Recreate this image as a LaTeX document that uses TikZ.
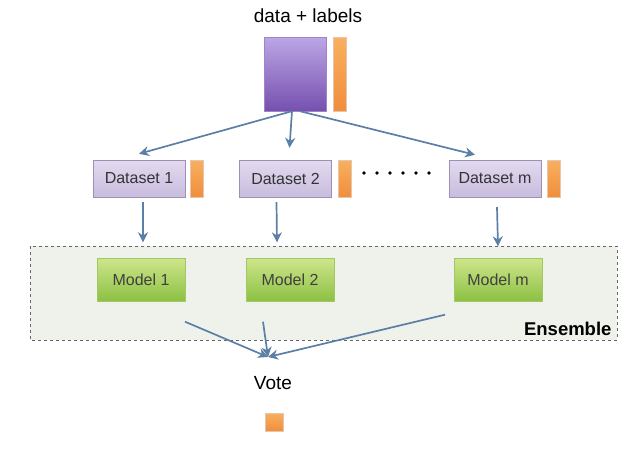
\documentclass[tikz,border=0pt]{standalone}
\usepackage{fontspec}
\setmainfont{Liberation Sans}
\usetikzlibrary{arrows.meta}

\definecolor{arrowblue}{HTML}{5B7FA6}
\definecolor{purpletop}{HTML}{BCA6E6}
\definecolor{purplebot}{HTML}{7650AE}
\definecolor{orangetop}{HTML}{F8B060}
\definecolor{orangebot}{HTML}{F08E3C}
\definecolor{settop}{HTML}{E2DAF0}
\definecolor{setbot}{HTML}{C9BCDD}
\definecolor{setline}{HTML}{9C90B4}
\definecolor{modtop}{HTML}{CDE58A}
\definecolor{modbot}{HTML}{8CC043}
\definecolor{modline}{HTML}{A3C667}
\definecolor{ensfill}{HTML}{EFF2EA}

\tikzset{
    setbox/.style={draw=setline, top color=settop, bottom color=setbot,
        minimum width=92pt, minimum height=37pt, inner sep=0pt,
        font=\fontsize{16}{18}\selectfont, text=black!80},
    labelbar/.style={draw=orangebot!80!black!40, top color=orangetop, bottom color=orangebot,
        minimum width=13pt, minimum height=37pt, inner sep=0pt},
    modbox/.style={draw=modline, top color=modtop, bottom color=modbot,
        minimum width=88pt, minimum height=43pt, inner sep=0pt,
        font=\fontsize{16}{18}\selectfont, text=black!75},
    flow/.style={-{Stealth[length=10pt,width=10pt]}, arrowblue, line width=1.7pt}
}

\begin{document}
\begin{tikzpicture}[x=1pt,y=-1pt]
    \useasboundingbox (0,0) rectangle (640,458);

    % ensemble frame
    \draw[dashed, draw=black!60, fill=ensfill] (30,246) rectangle (617,340);
    \node[anchor=south east, font=\fontsize{18.5}{20}\selectfont\bfseries] (enslabel) at (615,339) {Ensemble};

    % data + labels
    \node[font=\fontsize{19}{21}\selectfont] (datatitle) at (308,16) {data + labels};
    \node[draw=purplebot!70, top color=purpletop, bottom color=purplebot,
        minimum width=62pt, minimum height=74pt, inner sep=0pt] (data) at (295,74) {};
    \node[labelbar, minimum height=74pt] (databar) at (339.5,74) {};

    % datasets
    \node[setbox] (set1) at (139,178.5) {Dataset 1};
    \node[labelbar] (bar1) at (197,178.5) {};
    \node[setbox] (set2) at (285.5,178.5) {Dataset 2};
    \node[labelbar] (bar2) at (344.5,178.5) {};
    \node[setbox] (setm) at (495,178.5) {Dataset m};
    \node[labelbar] (barm) at (553.5,178.5) {};
    \foreach \i in {0,...,5}
        \fill (364+13*\i,173) circle (1.8pt);

    % models
    \node[modbox] (mod1) at (141,280) {Model 1};
    \node[modbox] (mod2) at (290,280) {Model 2};
    \node[modbox] (modm) at (498,280) {Model m};

    % vote
    \node[font=\fontsize{19}{21}\selectfont] (vote) at (273,383) {Vote};
    \node[labelbar, minimum width=18pt, minimum height=18pt] (votebar) at (274,422) {};
    \coordinate (votein) at (268,357);

    % arrows
    \draw[flow] ([xshift=-3pt]data.south) -- ([yshift=6pt]set1.north);
    \draw[flow] ([xshift=-3pt]data.south) -- ([xshift=4pt,yshift=12pt]set2.north);
    \draw[flow] ([xshift=5pt]data.south) -- ([xshift=-20pt,yshift=5pt]setm.north);

    \draw[flow] ([xshift=4pt,yshift=-5pt]set1.south) -- ([xshift=2pt,yshift=16pt]mod1.north);
    \draw[flow] ([xshift=-9pt,yshift=-5pt]set2.south) -- ([xshift=-13pt,yshift=16pt]mod2.north);
    \draw[flow] ([xshift=2pt,yshift=-10pt]setm.south) -- ([yshift=12pt]modm.north);

    \draw[flow] ([xshift=44pt,yshift=-20pt]mod1.south) -- (votein);
    \draw[flow] ([xshift=-27pt,yshift=-20pt]mod2.south) -- (votein);
    \draw[flow] ([xshift=-53pt,yshift=-13pt]modm.south) -- (votein);
\end{tikzpicture}
\end{document}
